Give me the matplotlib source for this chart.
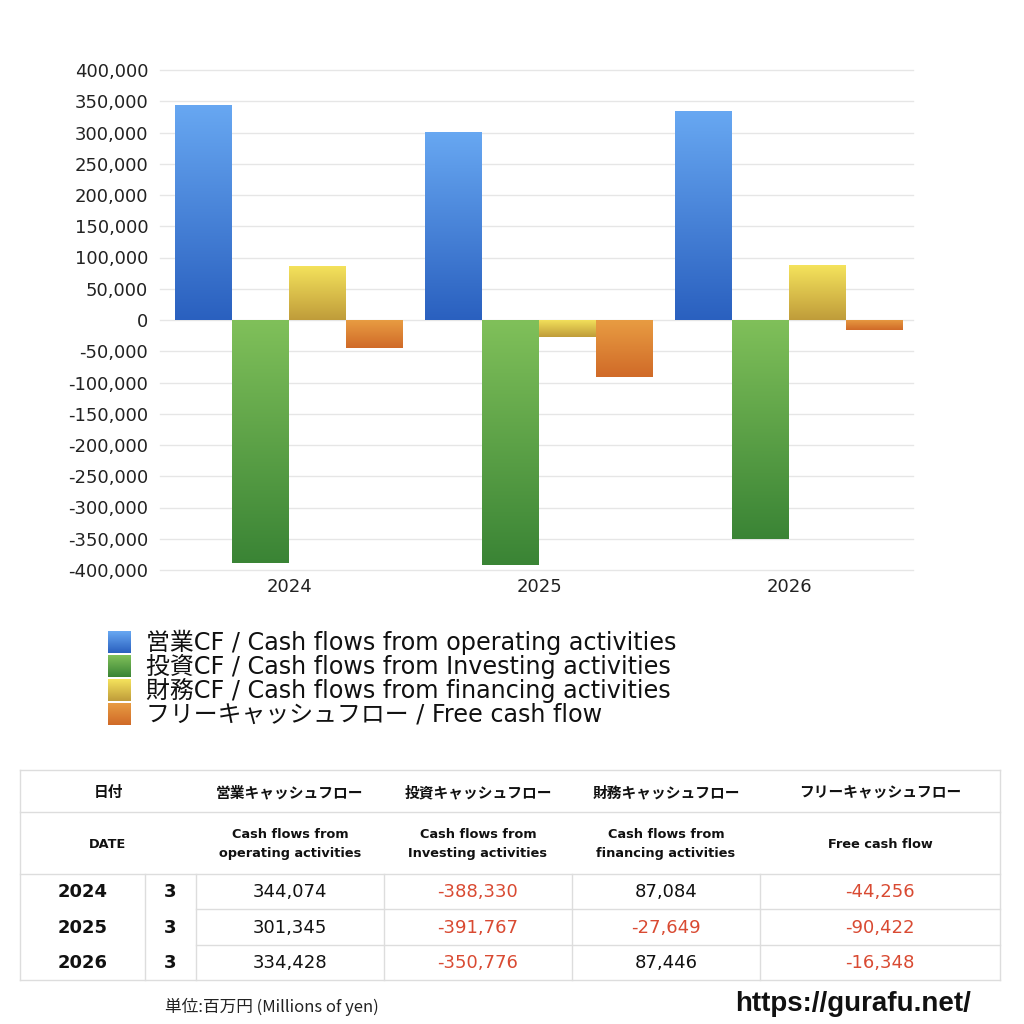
import numpy as np
import matplotlib
matplotlib.use("Agg")
import matplotlib.pyplot as plt
from matplotlib.colors import LinearSegmentedColormap
from matplotlib.ticker import FuncFormatter
from matplotlib.lines import Line2D

plt.rcParams['font.family'] = ['DejaVu Sans', 'Noto Sans CJK JP']
CJK = ['Noto Sans CJK JP', 'DejaVu Sans']

years = ["2024", "2025", "2026"]
months = ["3", "3", "3"]
operating = [344074, 301345, 334428]
investing = [-388330, -391767, -350776]
financing = [87084, -27649, 87446]
free_cf = [-44256, -90422, -16348]

series_labels = [
    "営業CF / Cash flows from operating activities",
    "投資CF / Cash flows from Investing activities",
    "財務CF / Cash flows from financing activities",
    "フリーキャッシュフロー / Free cash flow",
]
table_head_jp = ["日付", "営業キャッシュフロー", "投資キャッシュフロー", "財務キャッシュフロー", "フリーキャッシュフロー"]
table_head_en = ["DATE", "Cash flows from\noperating activities", "Cash flows from\nInvesting activities",
                 "Cash flows from\nfinancing activities", "Free cash flow"]
yticks = list(range(-400000, 400001, 50000))

# gradient colors (top, bottom)
grads = [("#68a8f2", "#2a60bf"), ("#80c05a", "#3a8435"), ("#f5e35c", "#bf9c3a"), ("#e89c42", "#d06a28")]

fig = plt.figure(figsize=(10.24, 10.24), dpi=100)
W = H = 1024.0
ax = fig.add_axes([160 / W, 1 - 570 / H, (913 - 160) / W, (570 - 70) / H])

series = [operating, investing, financing, free_cf]
x = np.arange(len(years))
w = 0.228
for i, (vals, (ctop, cbot)) in enumerate(zip(series, grads)):
    cmap = LinearSegmentedColormap.from_list(f"g{i}", [cbot, ctop])
    bars = ax.bar(x + (i - 1.5) * w, vals, width=w, color=ctop, edgecolor='none', zorder=2)
    for b in bars:
        x0, y0 = b.get_x(), b.get_y()
        bw, bh = b.get_width(), b.get_height()
        ylo, yhi = min(y0, y0 + bh), max(y0, y0 + bh)
        grad = np.linspace(0, 1, 256).reshape(-1, 1)
        im = ax.imshow(grad, extent=[x0, x0 + bw, ylo, yhi], origin='lower', cmap=cmap,
                       aspect='auto', zorder=3, interpolation='bilinear')
        im.set_clip_path(b)

ax.set_xlim(-0.516, 2.496)
ax.set_ylim(-400000, 400000)
ax.set_yticks(yticks)
ax.yaxis.set_major_formatter(FuncFormatter(lambda v, p: f"{int(v):,}"))
ax.set_xticks(x)
ax.set_xticklabels(years)
ax.tick_params(axis='both', length=0, labelsize=13, colors='#222222')
ax.tick_params(axis='y', pad=8.5)
ax.tick_params(axis='x', pad=6)
ax.grid(axis='y', color='#e6e6e6', linewidth=1, zorder=0)
ax.set_axisbelow(True)
for gl in ax.get_ygridlines():
    gl.set_clip_on(False)
for s in ax.spines.values():
    s.set_visible(False)

# overlay for legend, table, footer (pixel coordinates)
ov = fig.add_axes([0, 0, 1, 1])
ov.set_xlim(0, W)
ov.set_ylim(H, 0)
ov.axis('off')

# legend
for i, ((ctop, cbot), lab) in enumerate(zip(grads, series_labels)):
    y0 = 631 + i * 24
    cmap = LinearSegmentedColormap.from_list(f"l{i}", [ctop, cbot])
    grad = np.linspace(0, 1, 64).reshape(-1, 1)
    ov.imshow(grad, extent=[108, 131, y0 + 22, y0], cmap=cmap, aspect='auto', origin='upper')
    ov.text(146, y0 + 11, lab, fontsize=17.2, va='center', ha='left', color='#111111')
ov.set_xlim(0, W)
ov.set_ylim(H, 0)

# table
lc = '#dddddd'
def hline(y, x0, x1):
    ov.add_line(Line2D([x0, x1], [y, y], color=lc, lw=1))
def vline(xx, y0, y1):
    ov.add_line(Line2D([xx, xx], [y0, y1], color=lc, lw=1))

hline(770, 20, 1000)
hline(812, 20, 1000)
hline(874, 20, 1000)
hline(909, 196, 1000)
hline(945, 196, 1000)
hline(980, 20, 1000)
vline(20, 770, 980)
vline(1000, 770, 980)
for xx in [145, 196, 384, 572, 760]:
    vline(xx, 874, 980)

head_x = [108, 290, 478, 666, 880]
for hx, jp, en in zip(head_x, table_head_jp, table_head_en):
    ov.text(hx, 792, jp, fontsize=10.6, fontweight='bold', ha='center', va='center', color='#111111',
            family=CJK)
    ov.text(hx, 844, en, fontsize=9.3, fontweight='bold', ha='center', va='center', color='#111111',
            linespacing=1.55)

row_y = [892, 928, 963]
col_x = [290, 478, 666, 880]
for r, (yr, mo) in enumerate(zip(years, months)):
    ov.text(83, row_y[r], yr, fontsize=13, fontweight='bold', ha='center', va='center', color='#111111')
    ov.text(170, row_y[r], mo, fontsize=13, fontweight='bold', ha='center', va='center', color='#111111')
    for c, vals in enumerate(series):
        v = vals[r]
        ov.text(col_x[c], row_y[r], f"{v:,}", fontsize=13, ha='center', va='center',
                color='#d94a32' if v < 0 else '#111111')

# footer
ov.text(165, 1007, "単位:百万円 (Millions of yen)", fontsize=12, ha='left', va='center', color='#222222',
        family=CJK)
ov.text(735, 1004, "https://gurafu.net/", fontsize=20, fontweight='bold', ha='left', va='center',
        color='#111111', family=['Liberation Sans'])

fig.savefig("out.png", dpi=100)
